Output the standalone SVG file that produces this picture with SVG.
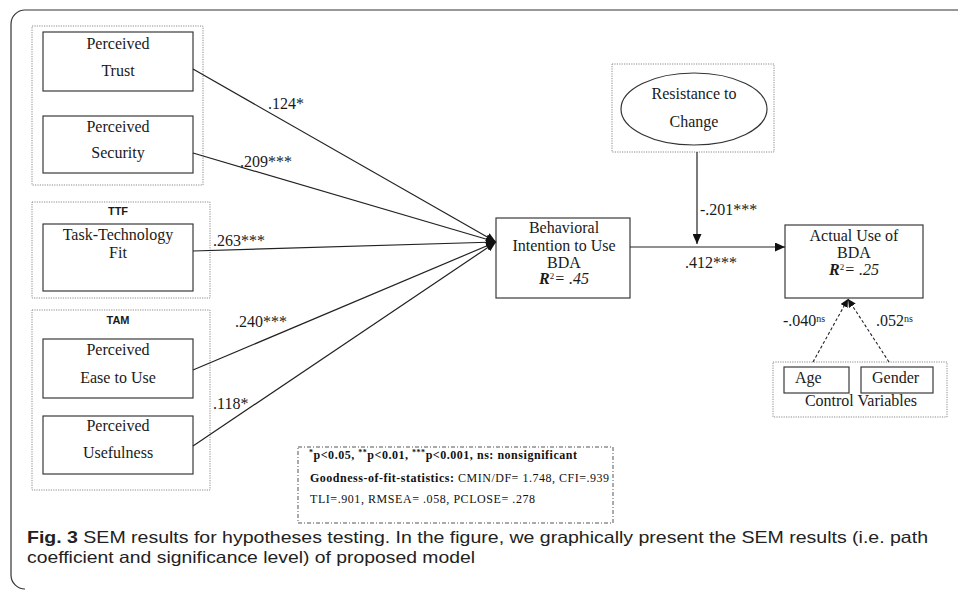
<svg xmlns="http://www.w3.org/2000/svg" width="958" height="590" viewBox="0 0 958 590">
<style>
.t{font-family:"Liberation Serif","Times New Roman",serif;font-size:16px;fill:#1a1a1a}
.c{text-anchor:middle}
.lab{font-family:"Liberation Sans",Arial,sans-serif;font-size:11px;font-weight:bold;fill:#1a1a1a;text-anchor:middle}
.box{fill:#fff;stroke:#3a3a3a;stroke-width:1.2}
.grp{fill:none;stroke:#8a8a8a;stroke-width:1;stroke-dasharray:1.2 1.2}
.ln{fill:none;stroke:#222;stroke-width:1.2}
.dl{fill:none;stroke:#222;stroke-width:1.1;stroke-dasharray:3 2.2}
.g{font-family:"Liberation Serif","Times New Roman",serif;font-size:12px;fill:#111}
.cap{font-family:"Liberation Sans",Arial,sans-serif;font-size:16.5px;fill:#222}
</style>
<defs>
<marker id="arr" markerUnits="userSpaceOnUse" markerWidth="10" markerHeight="9" refX="10" refY="4.5" orient="auto">
<path d="M0,0 L10,4.5 L0,9 z" fill="#111"/>
</marker>
<marker id="arrs" markerUnits="userSpaceOnUse" markerWidth="8" markerHeight="8" refX="8" refY="4" orient="auto">
<path d="M0,0 L8,4 L0,8 z" fill="#111"/>
</marker>
</defs>
<rect width="958" height="590" fill="#fff"/>
<path d="M958,10 H25 A14,14 0 0 0 11,24 V575 A14,14 0 0 0 25,589" fill="none" stroke="#333" stroke-width="1.2"/>

<g id="group-trust-security">
<rect class="grp" x="32" y="26" width="171" height="159"/>
</g>
<g id="node-trust">
<rect class="box" x="43" y="32" width="150" height="59"/>
<text class="t c" x="118" y="49">Perceived</text>
<text class="t c" x="118" y="76">Trust</text>
</g>
<g id="node-security">
<rect class="box" x="43" y="116" width="150" height="57"/>
<text class="t c" x="118" y="132">Perceived</text>
<text class="t c" x="118" y="158">Security</text>
</g>

<g id="group-ttf">
<rect class="grp" x="32" y="202" width="178" height="96"/>
<text class="lab" x="118" y="215">TTF</text>
</g>
<g id="node-ttf">
<rect class="box" x="43" y="224" width="150" height="67"/>
<text class="t c" x="118" y="240" font-size="15">Task-Technology</text>
<text class="t c" x="118" y="258" font-size="15">Fit</text>
</g>

<g id="group-tam">
<rect class="grp" x="32" y="310" width="178" height="180"/>
<text class="lab" x="118" y="324">TAM</text>
</g>
<g id="node-ease">
<rect class="box" x="43" y="339" width="150" height="59"/>
<text class="t c" x="118" y="355">Perceived</text>
<text class="t c" x="118" y="383">Ease to Use</text>
</g>
<g id="node-usefulness">
<rect class="box" x="43" y="416" width="150" height="58"/>
<text class="t c" x="118" y="431">Perceived</text>
<text class="t c" x="118" y="458">Usefulness</text>
</g>

<g id="node-bi">
<rect class="box" x="496" y="218" width="134" height="80"/>
<text class="t c" x="564" y="233">Behavioral</text>
<text class="t c" x="564" y="251">Intention to Use</text>
<text class="t c" x="564" y="268">BDA</text>
<text class="t c" x="564" y="284"><tspan font-weight="bold" font-style="italic">R</tspan><tspan font-size="9" dy="-5">2</tspan><tspan dy="5" font-style="italic">= .45</tspan></text>
</g>

<g id="node-resistance">
<rect class="grp" x="612" y="64" width="162" height="88"/>
<ellipse cx="694" cy="109" rx="73" ry="36" fill="#fff" stroke="#333" stroke-width="1.2"/>
<text class="t c" x="694" y="99">Resistance to</text>
<text class="t c" x="694" y="127">Change</text>
</g>

<g id="node-actual">
<rect class="box" x="785" y="225" width="138" height="73"/>
<text class="t c" x="854" y="241">Actual Use of</text>
<text class="t c" x="854" y="258">BDA</text>
<text class="t c" x="854" y="275"><tspan font-weight="bold" font-style="italic">R</tspan><tspan font-size="9" dy="-5">2</tspan><tspan dy="5" font-style="italic">= .25</tspan></text>
</g>

<g id="group-control">
<rect class="grp" x="773" y="362" width="174" height="55"/>
<text class="t c" x="861" y="406">Control Variables</text>
</g>
<g id="node-age">
<rect class="box" x="784" y="367" width="65" height="26"/>
<text class="t" x="795" y="383">Age</text>
</g>
<g id="node-gender">
<rect class="box" x="861" y="367" width="72" height="26"/>
<text class="t" x="872" y="383">Gender</text>
</g>

<g id="connectors">
<line class="ln" x1="193" y1="69" x2="496" y2="242" marker-end="url(#arr)"/>
<line class="ln" x1="193" y1="153" x2="496" y2="242" marker-end="url(#arr)"/>
<line class="ln" x1="193" y1="251" x2="496" y2="242" marker-end="url(#arr)"/>
<line class="ln" x1="193" y1="370" x2="496" y2="242" marker-end="url(#arr)"/>
<line class="ln" x1="193" y1="446" x2="496" y2="242" marker-end="url(#arr)"/>
<line class="ln" x1="630" y1="247" x2="785" y2="247" marker-end="url(#arr)"/>
<line class="ln" x1="697" y1="152" x2="697" y2="244" marker-end="url(#arr)"/>
<line class="dl" x1="813" y1="362" x2="848" y2="299" marker-end="url(#arrs)"/>
<line class="dl" x1="889" y1="362" x2="848" y2="299" marker-end="url(#arrs)"/>
<text class="t" x="268" y="109">.124*</text>
<text class="t" x="240" y="167">.209***</text>
<text class="t" x="213" y="246">.263***</text>
<text class="t" x="235" y="327">.240***</text>
<text class="t" x="213" y="409">.118*</text>
<text class="t" x="700" y="215">-.201***</text>
<text class="t" x="685" y="268">.412***</text>
<text class="t" x="783" y="326">-.040<tspan font-size="10" dy="-4">ns</tspan></text>
<text class="t" x="876" y="326">.052<tspan font-size="10" dy="-4">ns</tspan></text>
</g>

<g id="legend">
<rect x="298" y="447" width="315" height="76" fill="none" stroke="#555" stroke-width="1" stroke-dasharray="4 2 1 2"/>
<text class="g" x="309" y="459" font-weight="bold" textLength="268"><tspan font-size="8" dy="-4">*</tspan><tspan dy="4">p&lt;0.05, </tspan><tspan font-size="8" dy="-4">**</tspan><tspan dy="4">p&lt;0.01, </tspan><tspan font-size="8" dy="-4">***</tspan><tspan dy="4">p&lt;0.001, ns: nonsignificant</tspan></text>
<text class="g" x="310" y="482" textLength="299"><tspan font-weight="bold">Goodness-of-fit-statistics:</tspan> CMIN/DF= 1.748, CFI=.939</text>
<text class="g" x="310" y="503" textLength="225">TLI=.901, RMSEA= .058, PCLOSE= .278</text>
</g>

<g id="caption">
<text class="cap" x="27" y="543" textLength="901" lengthAdjust="spacingAndGlyphs"><tspan font-weight="bold">Fig. 3</tspan>  SEM results for hypotheses testing. In the figure, we graphically present the SEM results (i.e. path</text>
<text class="cap" x="27" y="563" textLength="448" lengthAdjust="spacingAndGlyphs">coefficient and significance level) of proposed model</text>
</g>
</svg>
